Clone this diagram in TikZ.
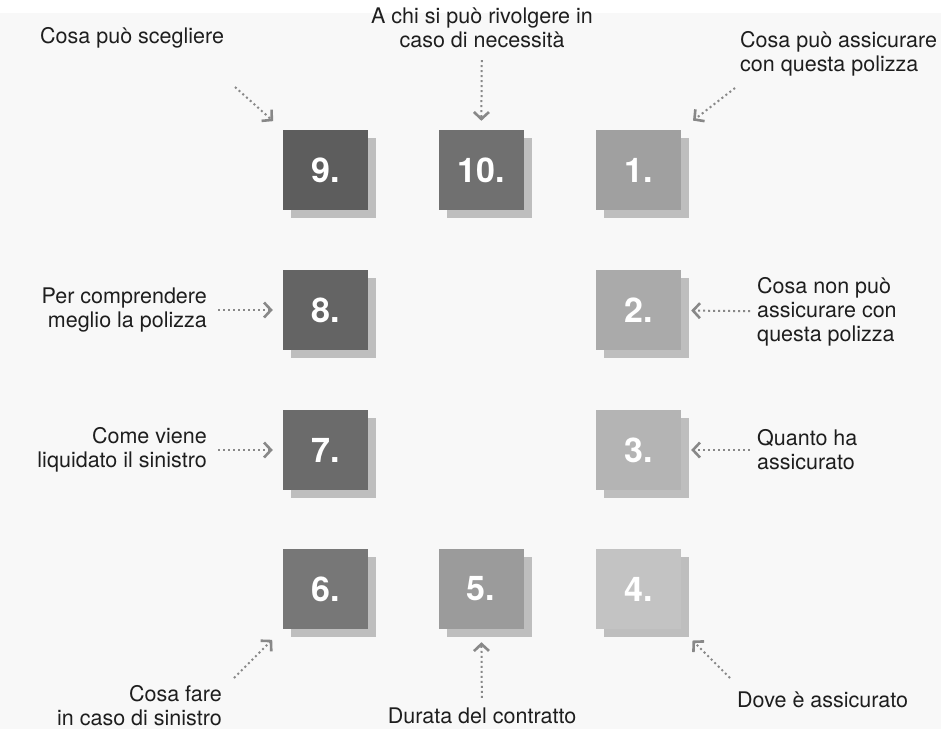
\documentclass[tikz,border=0pt]{standalone}
\usepackage{fontspec}
\setmainfont{TeX Gyre Heros}
\usetikzlibrary{arrows.meta,shadows}

\definecolor{bggray}{HTML}{F8F8F8}
\definecolor{arrowgray}{HTML}{888888}
\definecolor{shadowgray}{HTML}{BEBEBE}
\definecolor{txtgray}{HTML}{1E1E1E}
\definecolor{box1}{HTML}{A0A0A0}
\definecolor{box2}{HTML}{AAAAAA}
\definecolor{box3}{HTML}{B4B4B4}
\definecolor{box4}{HTML}{C3C3C3}
\definecolor{box5}{HTML}{9B9B9B}
\definecolor{box6}{HTML}{777777}
\definecolor{box7}{HTML}{6B6B6B}
\definecolor{box8}{HTML}{646464}
\definecolor{box9}{HTML}{5D5D5D}
\definecolor{box10}{HTML}{707070}

\begin{document}
\begin{tikzpicture}[x=1pt, y=-1pt,
    box/.style={rectangle, minimum width=85pt, minimum height=80pt, inner sep=0pt,
        text=white, font=\fontsize{34}{34}\selectfont\bfseries,
        drop shadow={shadow xshift=8pt, shadow yshift=-8pt, fill=shadowgray, opacity=1}},
    hint/.style={inner sep=4pt, text=txtgray, font=\fontsize{21.5}{24}\selectfont},
    link/.style={draw=arrowgray, line width=2pt, dash pattern=on 2pt off 3pt,
        -{Straight Barb[length=7pt, width=15pt, line width=2.6pt]}}
]
    \useasboundingbox (0,0) rectangle (941,729);
    \fill[white] (0,0) rectangle (941,13);
    \fill[bggray] (0,13) rectangle (941,729);

    \node[box, fill=box9] (s9) at (325.5,170) {9.};
    \node[box, fill=box10] (s10) at (481,170) {10.};
    \node[box, fill=box1] (s1) at (638.5,170) {1.};
    \node[box, fill=box8] (s8) at (325.5,310) {8.};
    \node[box, fill=box2] (s2) at (638.5,310) {2.};
    \node[box, fill=box7] (s7) at (325.5,450) {7.};
    \node[box, fill=box3] (s3) at (638.5,450) {3.};
    \node[box, fill=box6] (s6) at (325.5,589) {6.};
    \node[box, fill=box5] (s5) at (481,589) {5.};
    \node[box, fill=box4] (s4) at (638.5,589) {4.};

    \node[hint, anchor=west] (t9) at (36,38) {Cosa può scegliere};
    \node[hint, align=center] (t10) at (482,28) {A chi si può rivolgere in\\caso di necessità};
    \node[hint, anchor=west, align=left] (t1) at (736,54) {Cosa può assicurare\\con questa polizza};
    \node[hint, anchor=east, align=right] (t8) at (211,310) {Per comprendere\\meglio la polizza};
    \node[hint, anchor=west, align=left] (t2) at (753,312) {Cosa non può\\assicurare con\\questa polizza};
    \node[hint, anchor=east, align=right] (t7) at (211,450) {Come viene\\liquidato il sinistro};
    \node[hint, anchor=west, align=left] (t3) at (753,450) {Quanto ha\\assicurato};
    \node[hint, anchor=east, align=right] (t6) at (226,706) {Cosa fare\\in caso di sinistro};
    \node[hint] (t5) at (482,716) {Durata del contratto};
    \node[hint, anchor=west] (t4) at (733,700) {Dove è assicurato};

    \coordinate (c9) at (235,87);
    \coordinate (c1) at (735,88);
    \coordinate (c6) at (234,678);
    \coordinate (c4) at (730,678);

    \draw[link, shorten >=13pt] (c9) -- (s9.north west);
    \draw[link, shorten <=8pt, shorten >=9pt] (t10) -- (s10);
    \draw[link, shorten >=15pt] (c1) -- (s1.north east);
    \draw[link, shorten <=7pt, shorten >=10pt] (t8) -- (s8);
    \draw[link, shorten <=3pt, shorten >=10pt] (t2) -- (s2);
    \draw[link, shorten <=7pt, shorten >=10pt] (t7) -- (s7);
    \draw[link, shorten <=3pt, shorten >=10pt] (t3) -- (s3);
    \draw[link, shorten >=15pt] (c6) -- (s6.south west);
    \draw[link, shorten <=6pt, shorten >=13pt] (t5) -- (s5);
    \draw[link, shorten >=16pt] (c4) -- (s4.south east);
\end{tikzpicture}
\end{document}
